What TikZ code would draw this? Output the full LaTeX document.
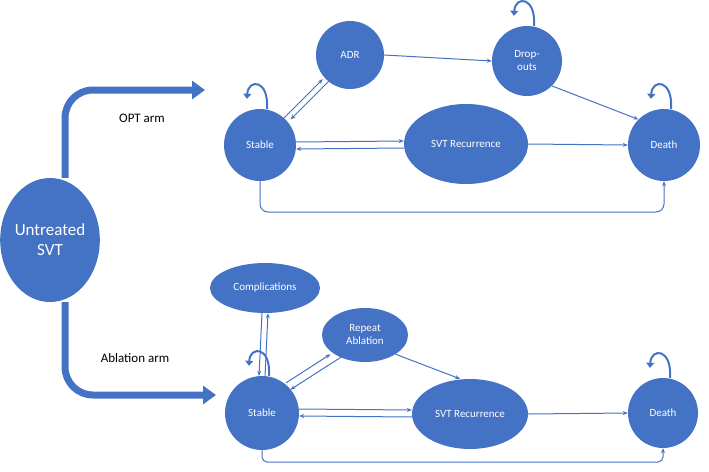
\documentclass[tikz,border=0pt]{standalone}
\usepackage{fontspec}
\setmainfont{Carlito}
\usetikzlibrary{shapes.geometric,arrows.meta}
\definecolor{bl}{HTML}{4472C4}
\begin{document}
\begin{tikzpicture}[x=1pt,y=-1pt,
 st/.style={circle,fill=bl,text=white,inner sep=0pt,font=\fontsize{11}{13}\selectfont,align=center},
 el/.style={ellipse,fill=bl,text=white,inner sep=0pt,font=\fontsize{11}{13}\selectfont,align=center},
 ar/.style={draw=bl,line width=1pt,-{Stealth[length=5pt,width=4pt]}},
 lp/.style={draw=bl,line width=2pt,-{Triangle[length=5pt,width=8pt]}},
 big/.style={draw=bl,line width=7pt,rounded corners=28pt,-{Triangle[length=13pt,width=18pt]}},
 lab/.style={font=\fontsize{13}{15}\selectfont}]
\useasboundingbox (0,0) rectangle (709,471);
\node[el,minimum width=96pt,minimum height=124pt,font=\fontsize{17}{20}\selectfont] (u) at (50,240) {Untreated\\SVT};
% top
\node[st,minimum size=72pt] (s1) at (260,145) {Stable};
\node[st,minimum size=68pt] (a1) at (350,55) {ADR};
\node[st,minimum size=70pt] (d1) at (527,61) {Drop-\\outs};
\node[el,minimum width=124pt,minimum height=80pt] (r1) at (466,144) {SVT Recurrence};
\node[st,minimum size=72pt] (x1) at (664,145) {Death};
\node[lab] (l1) at (142,118) {OPT arm};
% bottom
\node[el,minimum width=110pt,minimum height=50pt] (c2) at (265,288) {Complications};
\node[el,minimum width=86pt,minimum height=54pt] (p2) at (365,335) {Repeat\\Ablation};
\node[st,minimum size=74pt] (s2) at (262,413) {Stable};
\node[el,minimum width=116pt,minimum height=70pt] (r2) at (470,414) {SVT Recurrence};
\node[st,minimum size=70pt] (x2) at (663,413) {Death};
\node[lab] (l2) at (135,358) {Ablation arm};
% big arrows
\coordinate (t1) at (205,90);
\coordinate (t2) at (216,395);
\draw[big] (u.north) ++(15,0) |- (t1);
\draw[big] (u.south) ++(15,0) |- (t2);
% top edges
\draw[ar] ([xshift=-3pt]s1.north east) -- ([xshift=-3pt]a1.south west);
\draw[ar] ([xshift=5pt]a1.south west) -- ([xshift=5pt]s1.north east);
\draw[ar] (a1.east) -- (d1.west);
\draw[ar] (d1.south east) -- (x1.north west);
\draw[ar] ([yshift=3pt]s1.east) -- ([yshift=3pt]r1.west);
\draw[ar] ([yshift=-4pt]r1.west) -- ([yshift=-4pt]s1.east);
\draw[ar] (r1.east) -- (x1.west);
\draw[ar,rounded corners=8pt] (s1.south) |- (455,212) -| (x1.south);
% bottom edges
\draw[ar] ([xshift=-3pt]c2.south) -- ([xshift=-3pt]s2.north);
\draw[ar] ([xshift=3pt]s2.north) -- ([xshift=3pt]c2.south);
\draw[ar] ([shift={(-2pt,4pt)}]s2.north east) -- ([xshift=-4pt]p2.south west);
\draw[ar] ([xshift=8pt,yshift=-2pt]p2.south west) -- ([shift={(2pt,-3pt)}]s2.north east);
\draw[ar] (p2.south east) -- ([xshift=-10pt]r2.north);
\draw[ar] ([yshift=4pt]s2.east) -- ([yshift=4pt]r2.west);
\draw[ar] ([yshift=-3pt]r2.west) -- ([yshift=-3pt]s2.east);
\draw[ar] (r2.east) -- (x2.west);
\draw[ar,rounded corners=5pt] (s2.south) |- (460,462) -| (x2.south);
% self loops
\foreach \nd in {s1,d1,x1,s2,x2}{
 \draw[lp] ([xshift=7pt]\nd.north) .. controls ([shift={(9pt,30pt)}]\nd.north) and ([shift={(-12pt,30pt)}]\nd.north) .. ([shift={(-13pt,10pt)}]\nd.north);
}
\end{tikzpicture}
\end{document}
